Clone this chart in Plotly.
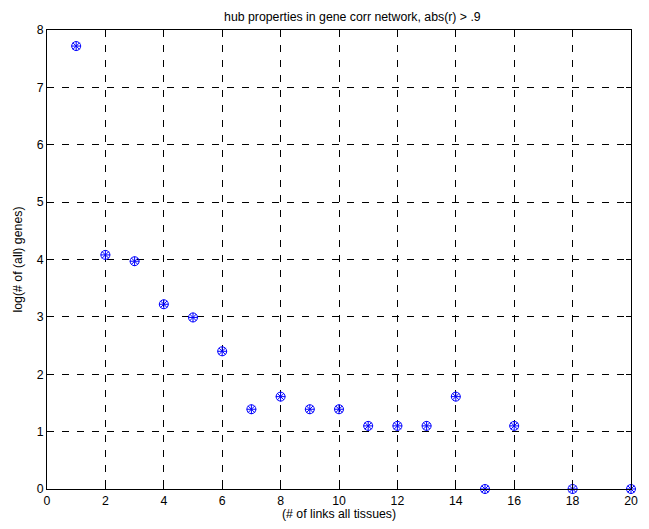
import plotly.graph_objects as go

links = [1, 2, 3, 4, 5, 6, 7, 8, 9, 10, 11, 12, 13, 14, 15, 16, 18, 20]
log_genes = [7.72, 4.08, 3.97, 3.22, 2.99, 2.40, 1.39, 1.61, 1.39, 1.39,
             1.10, 1.10, 1.10, 1.61, 0.0, 1.10, 0.0, 0.0]
x_ticks = list(range(0, 21, 2))
y_ticks = list(range(0, 9))

FONT = "Liberation Sans, Arial"
FS = 12.3

fig = go.Figure()
fig.add_trace(go.Scatter(x=links, y=log_genes, mode="markers",
                         marker=dict(symbol="circle-open", size=9, color="blue",
                                     line=dict(width=1, color="blue")),
                         cliponaxis=False, showlegend=False))
fig.add_trace(go.Scatter(x=links, y=log_genes, mode="markers",
                         marker=dict(symbol="asterisk-open", size=8, color="blue",
                                     line=dict(width=1, color="blue")),
                         cliponaxis=False, showlegend=False))

axis_common = dict(showline=True, linecolor="black", linewidth=1, mirror="ticks",
                   ticks="inside", ticklen=5, tickcolor="black",
                   showgrid=True, gridcolor="black", griddash="7px,8px", gridwidth=1,
                   zeroline=False, automargin=False,
                   tickfont=dict(family=FONT, size=FS, color="black"))

fig.update_xaxes(range=[0, 20], tickvals=x_ticks,
                 title=dict(text="(# of links all tissues)", standoff=8,
                            font=dict(family=FONT, size=FS, color="black")),
                 **axis_common)
fig.update_yaxes(range=[0, 8], tickvals=y_ticks,
                 title=dict(text="log(# of (all) genes)", standoff=11,
                            font=dict(family=FONT, size=FS, color="black")),
                 **axis_common)

# page has an 8px body margin; figure sized so that the page fits the window
W, H = 633, 513
fig.update_layout(
    width=W, height=H,
    margin=dict(l=39, r=10, t=22, b=32, autoexpand=False),
    paper_bgcolor="white", plot_bgcolor="white",
    title=dict(text="hub properties in gene corr network, abs(r) > .9",
               x=(39 + 584 / 2) / W, xanchor="center", y=1 - 9 / H, yanchor="middle",
               xref="paper",
               font=dict(family=FONT, size=FS, color="black")),
)

fig.write_html("out.html")
